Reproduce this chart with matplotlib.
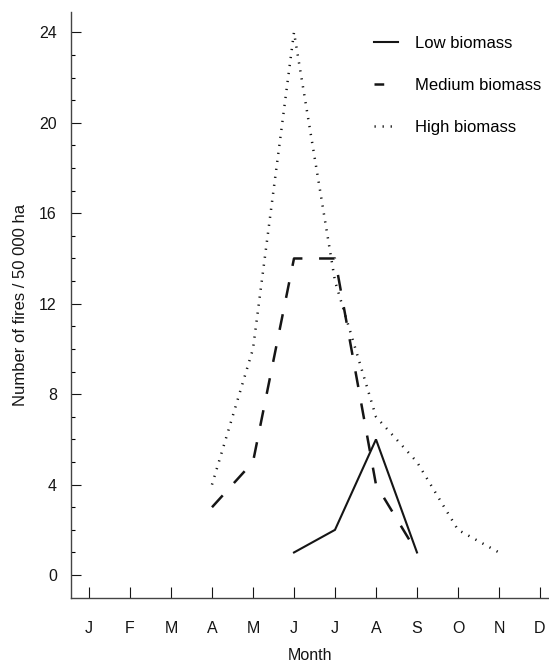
import matplotlib
matplotlib.use("Agg")
import matplotlib.pyplot as plt
from matplotlib.lines import Line2D

plt.rcParams['font.family'] = ['Liberation Sans', 'DejaVu Sans']
plt.rcParams['lines.scale_dashes'] = False

month_labels = ['J', 'F', 'M', 'A', 'M', 'J', 'J', 'A', 'S', 'O', 'N', 'D']

low_months = [6, 7, 8, 9]
low_fires = [1, 2, 6, 1]

medium_months = [4, 5, 6, 7, 8, 9]
medium_fires = [3, 5, 14, 14, 4, 1]

high_months = [4, 5, 6, 7, 8, 9, 10, 11]
high_fires = [4, 10, 24, 13, 7, 5, 2, 1]

fig = plt.figure(figsize=(5.49, 6.63), dpi=100)
ax = fig.add_axes([0.1288, 0.0985, 0.8712, 0.8834])

ink = '#151515'
ax.plot(low_months, low_fires, color=ink, lw=1.5, solid_joinstyle='miter')
ax.plot(medium_months, medium_fires, color=ink, lw=1.8, dashes=(11.5, 12))
ax.plot(high_months, high_fires, color=ink, lw=1.8, dashes=(0.9, 4.9))

ax.set_xlim(0.554, 12.22)
ax.set_ylim(-1.0, 24.9)

ax.set_xticks(range(1, 13))
ax.set_xticklabels(month_labels)
ax.set_yticks(range(0, 25, 4))
ax.set_yticks(range(0, 25), minor=True)

ax.tick_params(axis='x', direction='in', length=8, width=0.8, pad=16.5,
               labelsize=11.5, colors=ink)
ax.tick_params(axis='y', which='major', direction='in', length=7, width=0.8,
               pad=10, labelsize=11.5, colors=ink)
ax.tick_params(axis='y', which='minor', direction='in', length=3, width=0.8)

for side in ['top', 'right']:
    ax.spines[side].set_visible(False)
for side in ['left', 'bottom']:
    ax.spines[side].set_color('#444444')
    ax.spines[side].set_linewidth(1.0)

ax.set_xlabel('Month', fontsize=11.5, color=ink, labelpad=9)
ax.set_ylabel('Number of fires / 50 000 ha', fontsize=12, color=ink, labelpad=8)

handles = [
    Line2D([], [], color=ink, lw=1.5),
    Line2D([], [], color=ink, lw=1.8, dashes=(7, 20)),
    Line2D([], [], color=ink, lw=1.8, dashes=(0.9, 4.9)),
]
ax.legend(handles, ['Low biomass', 'Medium biomass', 'High biomass'],
          loc='upper left', bbox_to_anchor=(0.62, 0.971), frameon=False,
          fontsize=12, handlelength=1.45, handletextpad=1.0,
          labelspacing=1.63, borderaxespad=0)

fig.savefig('out.png', dpi=100)
